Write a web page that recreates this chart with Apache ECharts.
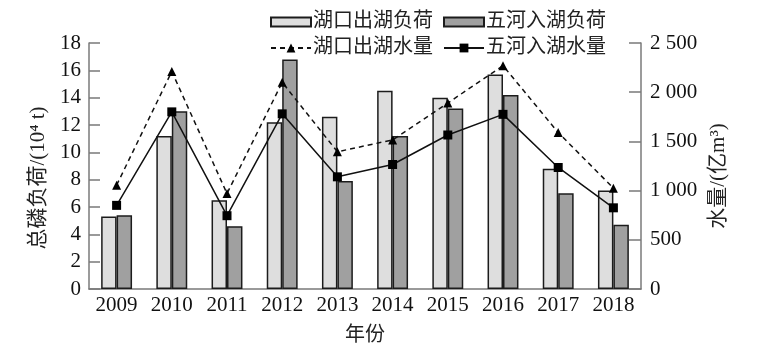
<!DOCTYPE html>
<html>
<head>
<meta charset="utf-8">
<script src="https://cdn.jsdelivr.net/npm/echarts@6/dist/echarts.min.js"></script>
<style>
html,body{margin:0;padding:0;background:#fff;}
#main{width:763px;height:354px;}
</style>
</head>
<body>
<div id="main"></div>
<script>
// data
var years = ['2009', '2010', '2011', '2012', '2013', '2014', '2015', '2016', '2017', '2018'];
var hukouLoad = [5.3, 11.2, 6.5, 12.2, 12.6, 14.5, 14.0, 15.7, 8.8, 7.2];
var wuheLoad = [5.4, 13.0, 4.6, 16.8, 7.9, 11.2, 13.2, 14.2, 7.0, 4.7];
var hukouWater = [1055, 2210, 970, 2100, 1395, 1515, 1890, 2270, 1590, 1025];
var wuheWater = [850, 1800, 745, 1780, 1140, 1265, 1565, 1775, 1235, 825];

var fontFam = '"Liberation Serif", "Times New Roman", "Noto Sans CJK SC", serif';
var axisCol = '#7a7a7a';

var dom = document.getElementById('main');
var myChart = echarts.init(dom);

var option = {
    animation: false,
    textStyle: {fontFamily: fontFam, color: '#111'},
    legend: [{
        left: 265,
        top: 7,
        icon: 'rect',
        itemWidth: 40,
        itemHeight: 9,
        itemGap: 10,
        textStyle: {fontSize: 20, fontFamily: fontFam, color: '#222', padding: [0, 0, 0, -3]},
        data: ['湖口出湖负荷', '五河入湖负荷']
    }, {
        left: 265,
        top: 33,
        itemWidth: 40,
        itemHeight: 11,
        itemGap: 10,
        textStyle: {fontSize: 20, fontFamily: fontFam, color: '#222', padding: [0, 0, 0, -3]},
        data: ['湖口出湖水量', '五河入湖水量']
    }],
    grid: {left: 89, right: 122, top: 43, bottom: 65},
    xAxis: {
        type: 'category',
        data: years,
        name: '年份',
        nameLocation: 'middle',
        nameGap: 37,
        nameTextStyle: {fontSize: 20, color: '#222'},
        axisLine: {lineStyle: {color: axisCol, width: 1.5}},
        axisTick: {inside: true, length: 11, lineStyle: {color: axisCol, width: 1.5}},
        axisLabel: {fontSize: 21, color: '#111', margin: 6}
    },
    yAxis: [{
        type: 'value',
        min: 0,
        max: 18,
        interval: 2,
        name: '总磷负荷/(10⁴ t)',
        nameLocation: 'middle',
        nameGap: 22,
        nameRotate: 90,
        nameTextStyle: {fontSize: 21, color: '#222', padding: [0, 24, 0, 0]},
        splitLine: {show: false},
        axisLine: {show: true, lineStyle: {color: axisCol, width: 1.5}},
        axisTick: {show: true, inside: true, length: 11, lineStyle: {color: axisCol, width: 1.5}},
        axisLabel: {fontSize: 21, color: '#111', margin: 8, padding: [7, 0, 0, 0]}
    }, {
        type: 'value',
        min: 0,
        max: 2500,
        interval: 500,
        position: 'right',
        name: '水量/(亿m³)',
        nameLocation: 'middle',
        nameGap: 64,
        nameRotate: 90,
        nameTextStyle: {fontSize: 21, color: '#222', padding: [0, 20, 0, 0]},
        splitLine: {show: false},
        axisLine: {show: true, lineStyle: {color: axisCol, width: 1.5}},
        axisTick: {show: true, inside: true, length: 12, lineStyle: {color: axisCol, width: 1.5}},
        axisLabel: {
            fontSize: 21, color: '#111', margin: 9, padding: [6, 0, 0, 0],
            formatter: function (v) {
                return String(v).replace(/(\d)(\d{3})$/, '$1 $2');
            }
        }
    }],
    series: [{
        name: '湖口出湖负荷',
        type: 'bar',
        data: hukouLoad,
        barGap: 0,
        barCategoryGap: '44%',
        itemStyle: {color: '#dedede', borderColor: '#1c1c1c', borderWidth: 1.5}
    }, {
        name: '五河入湖负荷',
        type: 'bar',
        data: wuheLoad,
        itemStyle: {color: '#a0a0a0', borderColor: '#1c1c1c', borderWidth: 1.5}
    }, {
        name: '湖口出湖水量',
        type: 'line',
        yAxisIndex: 1,
        data: hukouWater,
        symbol: 'triangle',
        symbolSize: 9,
        lineStyle: {color: '#111', width: 1.5, type: [5, 4]},
        itemStyle: {color: '#000'}
    }, {
        name: '五河入湖水量',
        type: 'line',
        yAxisIndex: 1,
        data: wuheWater,
        symbol: 'rect',
        symbolSize: 9,
        lineStyle: {color: '#111', width: 1.5},
        itemStyle: {color: '#000'}
    }]
};

if (option && typeof option === 'object') {
    myChart.setOption(option, true);
}
</script>
</body>
</html>
